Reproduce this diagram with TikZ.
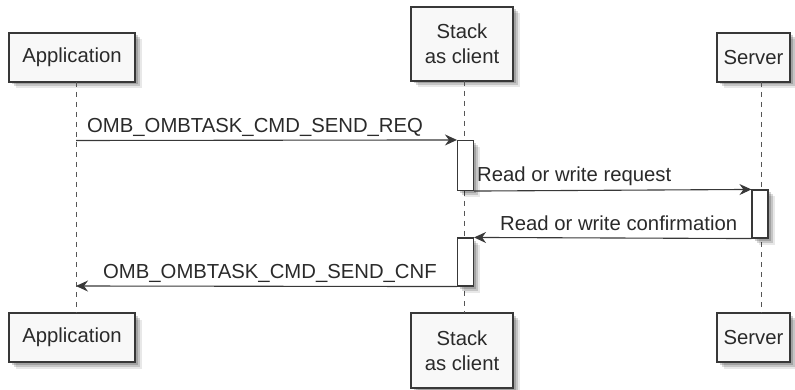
\documentclass[tikz,border=0pt]{standalone}
\usepackage{fontspec}
\setmainfont{Liberation Sans}
\usetikzlibrary{arrows.meta,shadows}

\definecolor{boxfill}{HTML}{F8F8F8}
\definecolor{edge}{HTML}{383838}
\definecolor{ink}{HTML}{2A2A2A}

\tikzset{
  sh/.style={
    general shadow={shadow xshift=2.5pt,shadow yshift=-2.5pt,fill=black,opacity=.18},
    general shadow={shadow xshift=4.5pt,shadow yshift=-4.5pt,fill=black,opacity=.15},
    general shadow={shadow xshift=6.5pt,shadow yshift=-6.5pt,fill=black,opacity=.09}},
  party/.style={sh,draw=edge,line width=1.4pt,fill=boxfill,inner sep=0pt,
    minimum height=49pt,align=center,text=ink,
    font=\fontsize{20.3}{25}\selectfont},
  actbox/.style={sh,draw=edge,line width=1.1pt,fill=white,inner sep=0pt,
    minimum width=16pt},
  life/.style={draw=edge!85,line width=0.8pt,dash pattern=on 5pt off 5pt},
  msg/.style={draw=edge,line width=1.1pt,
    -{Stealth[length=12pt,width=11pt,inset=4pt]}},
  lbl/.style={anchor=base west,inner sep=0pt,text=ink,
    font=\fontsize{20.3}{25}\selectfont}
}

\begin{document}
\begin{tikzpicture}[x=1pt,y=-1pt]
\path[use as bounding box] (0,0) rectangle (795,390);

% participants, top row
\node[party,minimum width=126pt] (appT) at (72,57.5) {Application};
\node[party,minimum width=102pt,minimum height=74pt] (stkT) at (462,44) {Stack\\as client};
\node[party,minimum width=73pt] (srvT) at (753.5,57.5) {Server};

% participants, bottom row
\node[party,minimum width=126pt] (appB) at (72,337.5) {Application};
\node[party,minimum width=102pt,minimum height=75pt] (stkB) at (462,350.5) {Stack\\as client};
\node[party,minimum width=73pt] (srvB) at (753.5,337.5) {Server};

% lifeline end points
\coordinate (appL1) at (76,82);   \coordinate (appL2) at (76,313);
\coordinate (stkL1) at (464,81);  \coordinate (stkL2) at (464,313);
\coordinate (srvL1) at (761,82);  \coordinate (srvL2) at (761,313);
\draw[life] (appL1) -- (appL2);
\draw[life] (stkL1) -- (stkL2);
\draw[life] (srvL1) -- (srvL2);

% activation bars
\node[actbox,minimum height=50pt] (act1) at (465.5,165.5) {};
\node[actbox,minimum height=48pt] (act2) at (760,214) {};
\node[actbox,minimum height=48pt] (act3) at (465.5,262) {};

% messages
\coordinate (appM1) at (76,140.5);
\coordinate (appM4) at (76,286);
\draw[msg] (appM1) -- (act1.north west);
\draw[msg] (act1.south east) -- (act2.north west);
\draw[msg] (act2.south west) -- (act3.north east);
\draw[msg] (act3.south west) -- (appM4);

% message labels
\node[lbl] (t1) at (87,133) {OMB\_OMBTASK\_CMD\_SEND\_REQ};
\node[lbl] (t2) at (477,182) {Read or write request};
\node[lbl] (t3) at (500,230) {Read or write confirmation};
\node[lbl] (t4) at (103,278) {OMB\_OMBTASK\_CMD\_SEND\_CNF};
\end{tikzpicture}
\end{document}
